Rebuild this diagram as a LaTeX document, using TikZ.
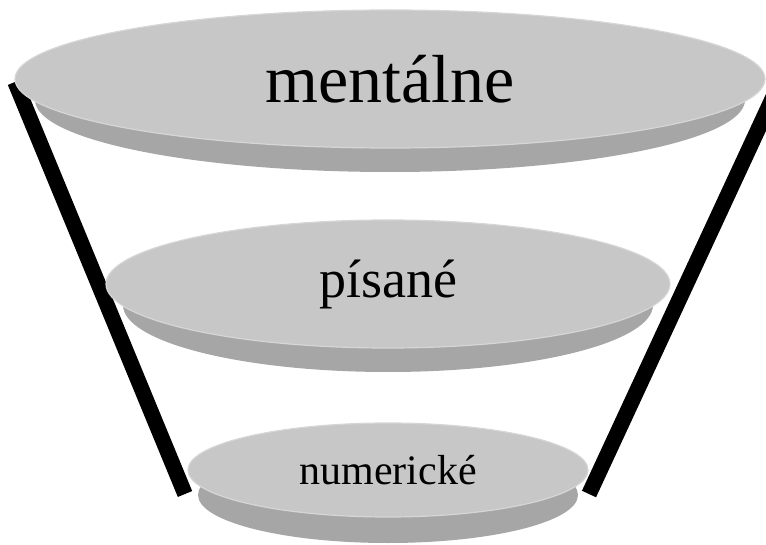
\documentclass[tikz,border=0pt]{standalone}
\usepackage{fontspec}
\setmainfont{Liberation Serif}
\usetikzlibrary{shapes.geometric}

\begin{document}
\begin{tikzpicture}[
  x=1pt, y=-1pt,
  face/.style={ellipse, draw=black!16, line width=1.2pt, fill=black!22, inner sep=0pt},
  rim/.style={ellipse, fill=black!35, inner sep=0pt},
  funnel/.style={line width=15.5pt}
]
\clip (0,0) rectangle (766,545);

% funnel sides
\coordinate (ltop) at (15,82);
\coordinate (lbot) at (185,494);
\coordinate (rtop) at (781,80);
\coordinate (rbot) at (589,494);
\draw[funnel] (ltop) -- (lbot);
\draw[funnel] (rtop) -- (rbot);

% discs
\node[rim, minimum width=710pt, minimum height=144pt] (toprim) at (390,100) {};
\node[face, minimum width=750pt, minimum height=138pt, font=\fontsize{68}{80}\selectfont] (top) at (390,79) {mentálne};

\node[rim, minimum width=530pt, minimum height=134pt] (midrim) at (388,305) {};
\node[face, minimum width=564pt, minimum height=128pt, font=\fontsize{54}{64}\selectfont] (mid) at (388,284) {písané};

\node[rim, minimum width=380pt, minimum height=96pt] (botrim) at (388,495) {};
\node[face, minimum width=400pt, minimum height=94pt, font=\fontsize{42}{50}\selectfont] (bot) at (388,470) {numerické};
\end{tikzpicture}
\end{document}
